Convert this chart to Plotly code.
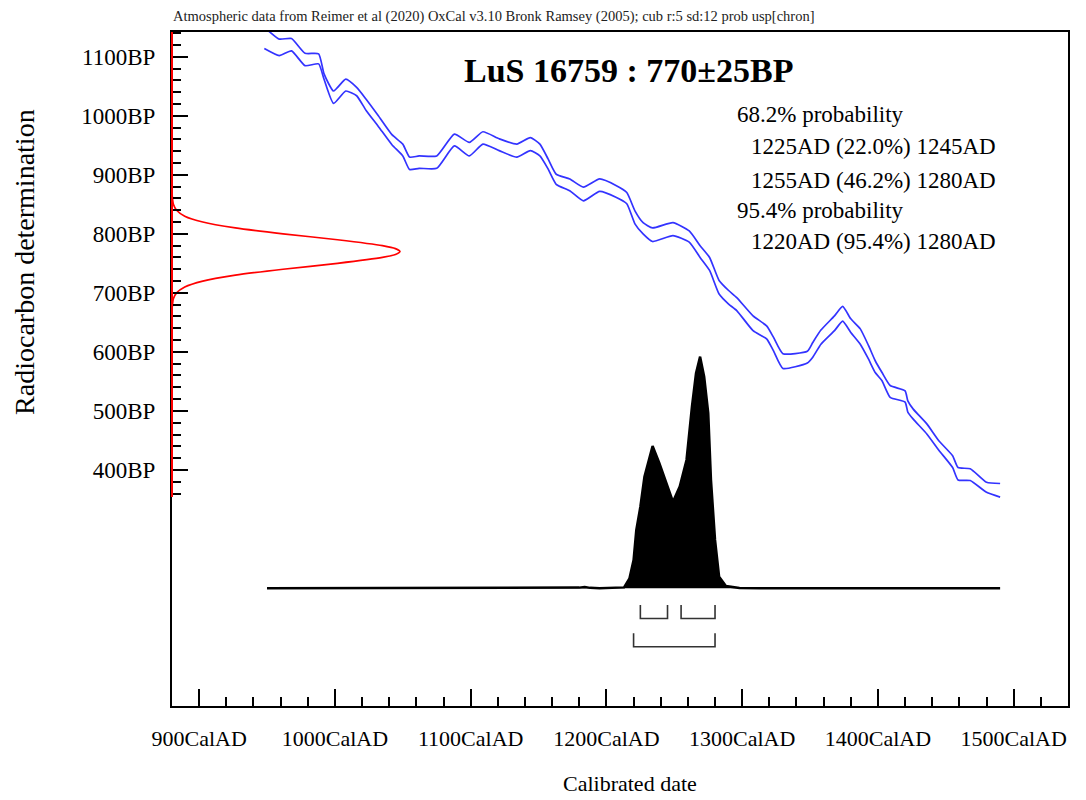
import plotly.graph_objects as go

# ---------------- data ----------------
sample_name = "LuS 16759"
c14_age = 770
c14_err = 25
header_text = "Atmospheric data from Reimer et al (2020) OxCal v3.10 Bronk Ramsey (2005); cub r:5 sd:12 prob usp[chron]"

# calibration curve (IntCal20), upper and lower 1-sigma envelope, BP
cal_year = [948, 959, 968, 978, 988, 992, 999, 1008, 1016, 1023,
            1032, 1042, 1050, 1055, 1062, 1075, 1088, 1099, 1109, 1121,
            1134, 1144, 1151, 1157, 1163, 1173, 1183, 1195, 1207, 1215,
            1221, 1227, 1234, 1249, 1261, 1269, 1276, 1283, 1290, 1296,
            1308, 1318, 1323, 1330, 1348, 1352, 1358, 1368, 1374, 1380,
            1387, 1393, 1398, 1403, 1409, 1420, 1422, 1426, 1436, 1445,
            1455, 1459, 1468, 1480, 1490]
curve_upper = [1150, 1130, 1131, 1106, 1105, 1071, 1042, 1062, 1048, 1028,
               1000, 968, 952, 930, 932, 932, 969, 955, 973, 961,
               952, 963, 952, 927, 901, 893, 879, 893, 882, 870,
               839, 819, 810, 819, 805, 780, 760, 721, 704, 692,
               661, 644, 625, 597, 601, 616, 637, 661, 677, 656,
               639, 611, 585, 565, 543, 534, 517, 503, 478, 449,
               424, 404, 402, 379, 377]
curve_lower = [1114, 1102, 1110, 1085, 1088, 1062, 1021, 1042, 1034, 1009,
               982, 951, 932, 909, 911, 911, 949, 932, 952, 941,
               930, 941, 932, 910, 884, 873, 856, 872, 862, 851,
               817, 800, 787, 797, 786, 760, 738, 698, 681, 670,
               636, 622, 602, 572, 581, 591, 613, 636, 652, 633,
               613, 588, 565, 551, 523, 515, 498, 486, 461, 433,
               404, 383, 382, 362, 354]

# radiocarbon measurement distribution (red), relative density vs BP
meas_bp = [354, 670, 680, 690, 700, 710, 720, 730, 740, 750, 760, 765, 770,
           775, 780, 790, 800, 810, 820, 830, 840, 850, 860, 870, 1142]
meas_density = [0, 0, 0.002, 0.006, 0.020, 0.056, 0.135, 0.278, 0.487, 0.726, 0.923, 0.98, 1.0,
                0.98, 0.923, 0.726, 0.487, 0.278, 0.135, 0.056, 0.020, 0.006, 0.002, 0, 0]

# calibrated date probability (black), relative to max
dist_year = [950, 1170, 1180, 1184, 1188, 1195, 1213, 1217, 1220, 1222,
             1225, 1228, 1234, 1239, 1244, 1249, 1254, 1259, 1263, 1266,
             1269, 1272, 1275, 1277, 1280, 1283, 1288, 1298, 1313, 1490]
dist_prob = [0, 0, 0.003, 0.006, 0.002, 0, 0.004, 0.043, 0.122, 0.251,
             0.352, 0.482, 0.614, 0.540, 0.453, 0.374, 0.439, 0.554, 0.784, 0.928,
             1.0, 0.914, 0.756, 0.468, 0.209, 0.050, 0.010, 0.001, 0, 0]

# highest probability ranges
ranges_68_start = [1225, 1255]
ranges_68_end = [1245, 1280]
ranges_68_pct = ["22.0", "46.2"]
ranges_95_start = [1220]
ranges_95_end = [1280]
ranges_95_pct = ["95.4"]

x_tick_vals = [900, 1000, 1100, 1200, 1300, 1400, 1500]
x_tick_text = [f"{v}CalAD" for v in x_tick_vals]
y_tick_vals = [400, 500, 600, 700, 800, 900, 1000, 1100]
y_tick_text = [f"{v}BP" for v in y_tick_vals]

# ---------------- figure ----------------
FONT = "Liberation Serif"
BLUE = "#3333ff"
fig = go.Figure()

fig.add_trace(go.Scatter(x=cal_year, y=curve_upper, mode="lines",
                         line=dict(color=BLUE, width=1.7, shape="spline", smoothing=0.5),
                         hoverinfo="skip"))
fig.add_trace(go.Scatter(x=cal_year, y=curve_lower, mode="lines",
                         line=dict(color=BLUE, width=1.7, shape="spline", smoothing=0.5),
                         hoverinfo="skip"))

fig.add_trace(go.Scatter(x=meas_density, y=meas_bp, xaxis="x2", yaxis="y", mode="lines",
                         line=dict(color="#ff0000", width=1.7, shape="spline", smoothing=0.6),
                         hoverinfo="skip"))

fig.add_trace(go.Scatter(x=dist_year, y=dist_prob, xaxis="x", yaxis="y2", mode="lines",
                         fill="tozeroy", fillcolor="black",
                         line=dict(color="black", width=2.5), hoverinfo="skip"))

# bracket levels (in units of the probability axis)
b68_tip, b68_bot = -0.072, -0.130
b95_tip, b95_bot = -0.194, -0.252
for a, b in zip(ranges_68_start, ranges_68_end):
    fig.add_trace(go.Scatter(x=[a, a, b, b], y=[b68_tip, b68_bot, b68_bot, b68_tip],
                             xaxis="x", yaxis="y2", mode="lines",
                             line=dict(color="#333333", width=1.6), hoverinfo="skip"))
for a, b in zip(ranges_95_start, ranges_95_end):
    fig.add_trace(go.Scatter(x=[a, a, b, b], y=[b95_tip, b95_bot, b95_bot, b95_tip],
                             xaxis="x", yaxis="y2", mode="lines",
                             line=dict(color="#333333", width=1.6), hoverinfo="skip"))

minor_x = [v for v in range(880, 1541, 20) if v not in x_tick_vals]
minor_y = [v for v in range(360, 1141, 20) if v not in y_tick_vals]

fig.update_layout(
    template="none",
    width=1086, height=800,
    margin=dict(l=172, r=18, t=32, b=94, autoexpand=False),
    paper_bgcolor="white", plot_bgcolor="white",
    showlegend=False,
    xaxis=dict(range=[880, 1540], tickmode="array", tickvals=x_tick_vals, ticktext=x_tick_text,
               ticks="inside", ticklen=17, tickwidth=1.5, tickcolor="black",
               minor=dict(tickmode="array", tickvals=minor_x, ticks="inside",
                          ticklen=9, tickwidth=1.5, tickcolor="black"),
               showline=True, linecolor="black", linewidth=2, mirror=True,
               showgrid=False, zeroline=False, automargin=False,
               tickfont=dict(family=FONT, size=22, color="black"),
               ticklabelstandoff=12),
    yaxis=dict(range=[0, 1142], tickmode="array", tickvals=y_tick_vals, ticktext=y_tick_text,
               ticks="inside", ticklen=16, tickwidth=1.5, tickcolor="black",
               minor=dict(tickmode="array", tickvals=minor_y, ticks="inside",
                          ticklen=9, tickwidth=1.5, tickcolor="black"),
               showline=True, linecolor="black", linewidth=2, mirror=True,
               showgrid=False, zeroline=False, automargin=False,
               tickfont=dict(family=FONT, size=23, color="black"),
               ticklabelstandoff=10),
    xaxis2=dict(overlaying="x", range=[0, 3.93], visible=False, automargin=False),
    yaxis2=dict(overlaying="y", range=[-0.508, 2.4015], visible=False, automargin=False),
    shapes=[dict(type="line", xref="paper", x0=0, x1=0, yref="y",
                 y0=min(meas_bp), y1=max(meas_bp),
                 line=dict(color="#ff0000", width=2), layer="above")],
)

ann = []
ann.append(dict(text=header_text, xref="paper", yref="paper", x=-0.001, y=1.0227,
                xanchor="left", yanchor="middle", showarrow=False,
                font=dict(family=FONT, size=14.5, color="#222222")))
ann.append(dict(text=f"<b>{sample_name} : {c14_age}±{c14_err}BP</b>", xref="paper", yref="paper",
                x=0.509, y=0.9436, xanchor="center", yanchor="middle", showarrow=False,
                font=dict(family=FONT, size=34, color="black")))

prob_lines = [("68.2% probability", 0.6286, 0.8769)]
ys68 = [0.8298, 0.7804]
for a, b, p, yy in zip(ranges_68_start, ranges_68_end, ranges_68_pct, ys68):
    prob_lines.append((f"{a}AD ({p}%) {b}AD", 0.644, yy))
prob_lines.append(("95.4% probability", 0.6286, 0.7359))
for a, b, p in zip(ranges_95_start, ranges_95_end, ranges_95_pct):
    prob_lines.append((f"{a}AD ({p}%) {b}AD", 0.644, 0.6889))
for txt, xx, yy in prob_lines:
    ann.append(dict(text=txt, xref="paper", yref="paper", x=xx, y=yy,
                    xanchor="left", yanchor="middle", showarrow=False,
                    font=dict(family=FONT, size=23, color="black")))

ann.append(dict(text="Radiocarbon determination", xref="paper", yref="paper",
                x=-0.1641, y=0.6588, xanchor="center", yanchor="middle", textangle=-90,
                showarrow=False, font=dict(family=FONT, size=28, color="black")))
ann.append(dict(text="Calibrated date", xref="paper", yref="paper",
                x=0.5107, y=-0.1150, xanchor="center", yanchor="middle",
                showarrow=False, font=dict(family=FONT, size=22, color="black")))
fig.update_layout(annotations=ann)

# remove the browser's default 8px body margin so the 1086x800 figure fills the window
fig.write_html("out.html", config={"displayModeBar": False},
               post_script="document.body.style.margin='0px';")
